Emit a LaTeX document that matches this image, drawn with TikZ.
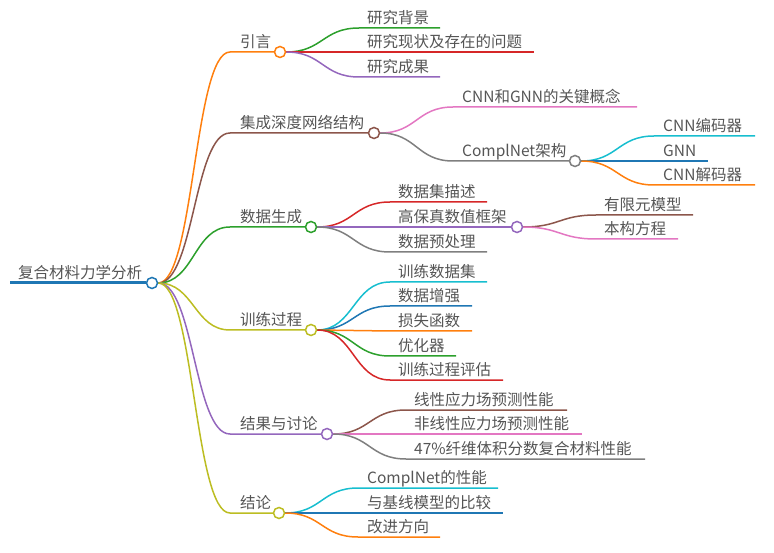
\documentclass[tikz,border=0pt]{standalone}
\usepackage{fontspec}
\setmainfont{Noto Sans CJK SC}
\usetikzlibrary{calc,backgrounds}
\definecolor{corange}{HTML}{FF7F0E}
\definecolor{cbrown}{HTML}{8C564B}
\definecolor{cgreen}{HTML}{2CA02C}
\definecolor{colive}{HTML}{BCBD22}
\definecolor{cpurple}{HTML}{9467BD}
\definecolor{cred}{HTML}{D62728}
\definecolor{cpink}{HTML}{E377C2}
\definecolor{cgray}{HTML}{7F7F7F}
\definecolor{ccyan}{HTML}{17BECF}
\definecolor{cblue}{HTML}{1F77B4}
\definecolor{txtgray}{HTML}{555555}
\tikzset{
  circ/.style={circle,draw=#1,fill=white,minimum size=11pt,inner sep=0pt,line width=1.5pt},
  txt/.style={anchor=base west,inner sep=0pt,text=txtgray,font=\fontsize{15.5}{18}\selectfont},
  link/.style={draw=#1,line width=1.5pt},
  mm/.style={to path={let \p1=(\tikztostart), \p2=(\tikztotarget) in
     .. controls ({(\x1+\x2)/2},\y1) and ({(\x1+\x2)/2},\y2) .. (\tikztotarget) \tikztonodes}}
}
\begin{document}
\begin{tikzpicture}[x=1pt,y=-1pt]
\useasboundingbox (0,0) rectangle (774,553);
% root
\node[circ=cblue] (R) at (152,283) {};
\coordinate (R0) at (10,283);
\node[txt] (Rt) at (18,278.5) {复合材料力学分析};
% level 1
\node[circ=corange] (A) at (280,52) {};
\node[circ=cbrown] (B) at (374,133) {};
\node[circ=cgreen] (C) at (311,227) {};
\node[circ=colive] (D) at (311,330) {};
\node[circ=cpurple] (E) at (327,434) {};
\node[circ=colive] (F) at (279,513) {};
\foreach \n/\y in {A/52,B/133,C/227,D/330,E/434,F/513}{\coordinate (\n s) at (230,\y);}
\node[txt] (At) at (240,47.5) {引言};
\node[txt] (Bt) at (240,128.5) {集成深度网络结构};
\node[txt] (Ct) at (240,222.5) {数据生成};
\node[txt] (Dt) at (240,325.5) {训练过程};
\node[txt] (Et) at (240,429.5) {结果与讨论};
\node[txt] (Ft) at (240,508.5) {结论};
% level 2 circles
\node[circ=cgray] (B2) at (575,161) {};
\node[circ=cpurple] (C2) at (517,227) {};
% A
\node[txt] (A1) at (367,23.5) {研究背景};
\node[txt] (A2) at (367,47.5) {研究现状及存在的问题};
\node[txt] (A3) at (367,72.5) {研究成果};
% B
\node[txt] (B1) at (462,102.5) {CNN和GNN的关键概念};
\node[txt] (B2t) at (462,156.5) {ComplNet架构};
\node[txt] (B21) at (663,131.5) {CNN编码器};
\node[txt] (B22) at (663,156.5) {GNN};
\node[txt] (B23) at (663,180.5) {CNN解码器};
% C
\node[txt] (C1) at (398,197.5) {数据集描述};
\node[txt] (C2t) at (398,222.5) {高保真数值框架};
\node[txt] (C3) at (398,247.5) {数据预处理};
\node[txt] (C21) at (604,210.5) {有限元模型};
\node[txt] (C22) at (604,234.5) {本构方程};
% D
\node[txt] (D1) at (398,277.5) {训练数据集};
\node[txt] (D2) at (398,301.5) {数据增强};
\node[txt] (D3) at (398,326.5) {损失函数};
\node[txt] (D4) at (398,351.5) {优化器};
\node[txt] (D5) at (398,375.5) {训练过程评估};
% E
\node[txt] (E1) at (414,405.5) {线性应力场预测性能};
\node[txt] (E2) at (414,429.5) {非线性应力场预测性能};
\node[txt] (E3) at (414,454.5) {47\%纤维体积分数复合材料性能};
% F
\node[txt] (F1) at (367,483.5) {ComplNet的性能};
\node[txt] (F2) at (367,508.5) {与基线模型的比较};
\node[txt] (F3) at (367,532.5) {改进方向};
% coordinates of line starts / ends
\coordinate (A1s) at (359,28);  \coordinate (A1e) at (440,28);
\coordinate (A2s) at (359,52);  \coordinate (A2e) at (534,52);
\coordinate (A3s) at (359,77);  \coordinate (A3e) at (440,77);
\coordinate (B1s) at (453,107); \coordinate (B1e) at (637,107);
\coordinate (B2s) at (453,161);
\coordinate (B21s) at (654,136); \coordinate (B21e) at (755,136);
\coordinate (B22s) at (654,161); \coordinate (B22e) at (708,161);
\coordinate (B23s) at (654,185); \coordinate (B23e) at (755,185);
\coordinate (C1s) at (390,202); \coordinate (C1e) at (487,202);
\coordinate (C2s) at (390,227);
\coordinate (C3s) at (390,252); \coordinate (C3e) at (487,252);
\coordinate (C21s) at (596,215); \coordinate (C21e) at (693,215);
\coordinate (C22s) at (596,239); \coordinate (C22e) at (678,239);
\coordinate (D1s) at (390,282); \coordinate (D1e) at (487,282);
\coordinate (D2s) at (390,306); \coordinate (D2e) at (472,306);
\coordinate (D3s) at (390,331); \coordinate (D3e) at (472,331);
\coordinate (D4s) at (390,356); \coordinate (D4e) at (456,356);
\coordinate (D5s) at (390,380); \coordinate (D5e) at (503,380);
\coordinate (E1s) at (406,410); \coordinate (E1e) at (567,410);
\coordinate (E2s) at (406,434); \coordinate (E2e) at (582,434);
\coordinate (E3s) at (406,459); \coordinate (E3e) at (645,459);
\coordinate (F1s) at (358,488); \coordinate (F1e) at (498,488);
\coordinate (F2s) at (358,513); \coordinate (F2e) at (503,513);
\coordinate (F3s) at (358,537); \coordinate (F3e) at (440,537);
\begin{scope}[on background layer]
\draw[cblue,line width=3pt] (R0) -- (R.west);
\draw[link=corange] (R.east) to[mm] (As) -- (A.west);
\draw[link=cbrown] (R.east) to[mm] (Bs) -- (B.west);
\draw[link=cgreen] (R.east) to[mm] (Cs) -- (C.west);
\draw[link=colive] (R.east) to[mm] (Ds) -- (D.west);
\draw[link=cpurple] (R.east) to[mm] (Es) -- (E.west);
\draw[link=colive] (R.east) to[mm] (Fs) -- (F.west);
\draw[link=cgreen] (A.east) to[mm] (A1s) -- (A1e);
\draw[link=cred] (A.east) to[mm] (A2s) -- (A2e);
\draw[link=cpurple] (A.east) to[mm] (A3s) -- (A3e);
\draw[link=cpink] (B.east) to[mm] (B1s) -- (B1e);
\draw[link=cgray] (B.east) to[mm] (B2s) -- (B2.west);
\draw[link=ccyan] (B2.east) to[mm] (B21s) -- (B21e);
\draw[link=cblue] (B2.east) to[mm] (B22s) -- (B22e);
\draw[link=corange] (B2.east) to[mm] (B23s) -- (B23e);
\draw[link=cred] (C.east) to[mm] (C1s) -- (C1e);
\draw[link=cpurple] (C.east) to[mm] (C2s) -- (C2.west);
\draw[link=cgray] (C.east) to[mm] (C3s) -- (C3e);
\draw[link=cbrown] (C2.east) to[mm] (C21s) -- (C21e);
\draw[link=cpink] (C2.east) to[mm] (C22s) -- (C22e);
\draw[link=ccyan] (D.east) to[mm] (D1s) -- (D1e);
\draw[link=cblue] (D.east) to[mm] (D2s) -- (D2e);
\draw[link=corange] (D.east) to[mm] (D3s) -- (D3e);
\draw[link=cgreen] (D.east) to[mm] (D4s) -- (D4e);
\draw[link=cred] (D.east) to[mm] (D5s) -- (D5e);
\draw[link=cbrown] (E.east) to[mm] (E1s) -- (E1e);
\draw[link=cpink] (E.east) to[mm] (E2s) -- (E2e);
\draw[link=cgray] (E.east) to[mm] (E3s) -- (E3e);
\draw[link=ccyan] (F.east) to[mm] (F1s) -- (F1e);
\draw[link=cblue] (F.east) to[mm] (F2s) -- (F2e);
\draw[link=corange] (F.east) to[mm] (F3s) -- (F3e);
\end{scope}
\end{tikzpicture}
\end{document}
